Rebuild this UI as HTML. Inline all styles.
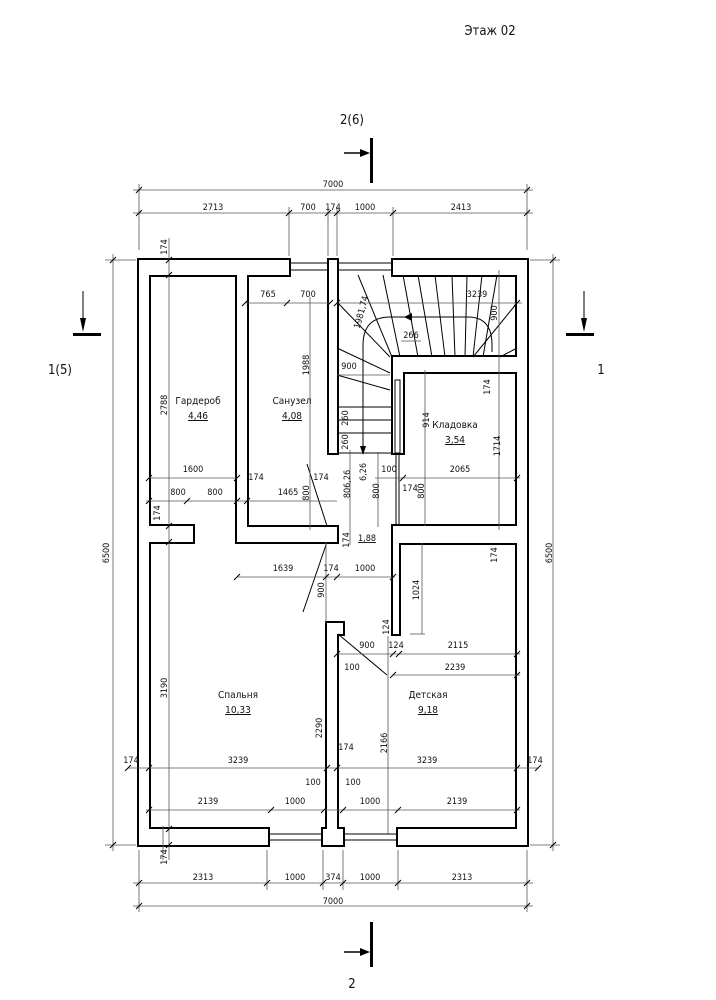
<!DOCTYPE html>
<html><head><meta charset="utf-8"><style>
html,body{margin:0;padding:0;background:#fff}
svg{display:block}
text{font-family:"DejaVu Sans","Liberation Sans",sans-serif;font-stretch:condensed;fill:#111}
.t{font-size:9px}
.d{stroke:#555;stroke-width:0.8;fill:none}
.k{stroke:#000;stroke-width:1;fill:none}
</style></head><body>
<svg width="716" height="1000" viewBox="0 0 716 1000" xmlns="http://www.w3.org/2000/svg">
<defs>
<g id="walls">
<rect x="139" y="260" width="150" height="15"/>
<rect x="329" y="260" width="8" height="193"/>
<rect x="393" y="260" width="134" height="15"/>
<rect x="139" y="260" width="10" height="585"/>
<rect x="517" y="260" width="10" height="585"/>
<rect x="139" y="829" width="129" height="16"/>
<rect x="323" y="829" width="20" height="16"/>
<rect x="398" y="829" width="129" height="16"/>
<rect x="149" y="526" width="44" height="16"/>
<rect x="237" y="275" width="10" height="267"/>
<rect x="237" y="527" width="100" height="15"/>
<rect x="393" y="357" width="124" height="15"/>
<rect x="393" y="357" width="10" height="96"/>
<rect x="393" y="526" width="124" height="17"/>
<rect x="393" y="526" width="6" height="108"/>
<rect x="327" y="623" width="16" height="11"/>
<rect x="327" y="623" width="10" height="222"/>
</g>
</defs>
<use href="#walls" stroke="#000" stroke-width="4" fill="#000"/>
<use href="#walls" fill="#fff"/>
<!-- windows -->
<g class="k" stroke-width="0.8">
<line x1="289" y1="263" x2="329" y2="263"/><line x1="289" y1="270" x2="329" y2="270"/>
<line x1="337" y1="263" x2="393" y2="263"/><line x1="337" y1="270" x2="393" y2="270"/>
<line x1="268" y1="834" x2="323" y2="834"/><line x1="268" y1="840" x2="323" y2="840"/>
<line x1="343" y1="834" x2="398" y2="834"/><line x1="343" y1="840" x2="398" y2="840"/>
</g>
<!-- pocket door -->
<rect x="395" y="380" width="5" height="73" fill="#fff" stroke="#000" stroke-width="1"/>
<line x1="396" y1="453" x2="396" y2="526" class="k" stroke-width="0.8"/>
<line x1="399" y1="453" x2="399" y2="526" class="k" stroke-width="0.8"/>
<!-- doors -->
<g class="k" stroke-width="1.4">
<line x1="307" y1="464" x2="327" y2="526"/>
<line x1="327" y1="542" x2="303" y2="612"/>
<line x1="338" y1="634" x2="387" y2="675"/>
</g>
<!-- stairs -->
<g class="k" stroke-width="0.8">
<line x1="358" y1="275" x2="392" y2="357"/>
<line x1="383" y1="275" x2="400" y2="357"/>
<line x1="403" y1="275" x2="418" y2="357"/>
<line x1="418" y1="275" x2="432" y2="357"/>
<line x1="435" y1="275" x2="445" y2="357"/>
<line x1="452" y1="275" x2="455" y2="357"/>
<line x1="467" y1="275" x2="465" y2="357"/>
<line x1="482" y1="275" x2="473" y2="357"/>
<line x1="497" y1="275" x2="483" y2="357"/>
<line x1="517" y1="303" x2="473" y2="357"/>
<line x1="517" y1="348" x2="500" y2="357"/>
<line x1="337" y1="302" x2="390" y2="357"/>
<line x1="337" y1="348" x2="390" y2="373"/>
<line x1="337" y1="375" x2="390" y2="390"/>
<line x1="337" y1="407" x2="393" y2="407"/>
<line x1="337" y1="420" x2="393" y2="420"/>
<line x1="337" y1="433" x2="393" y2="433"/>
<line x1="337" y1="453" x2="393" y2="453"/>
<path d="M363 453 V345 Q363 317 390 317 H468 Q492 317 492 345 V352"/>
</g>
<path d="M404 317 L412 313 L412 321 Z" fill="#000"/>
<path d="M363 455 L360 446 L366 446 Z" fill="#000"/>
<!-- dimension lines -->
<g class="d">
<line x1="133" y1="190" x2="533" y2="190"/>
<line x1="133" y1="213" x2="533" y2="213"/>
<line x1="139" y1="184" x2="139" y2="250"/><line x1="527" y1="184" x2="527" y2="250"/>
<line x1="289" y1="207" x2="289" y2="256"/><line x1="328" y1="207" x2="328" y2="256"/>
<line x1="337" y1="207" x2="337" y2="256"/><line x1="393" y1="207" x2="393" y2="256"/>
<line x1="133" y1="883" x2="533" y2="883"/>
<line x1="133" y1="906" x2="533" y2="906"/>
<line x1="139" y1="850" x2="139" y2="912"/><line x1="527" y1="850" x2="527" y2="912"/>
<line x1="267" y1="850" x2="267" y2="890"/><line x1="323" y1="850" x2="323" y2="890"/>
<line x1="343" y1="850" x2="343" y2="890"/><line x1="398" y1="850" x2="398" y2="890"/>
<line x1="113" y1="254" x2="113" y2="851"/><line x1="105" y1="260" x2="136" y2="260"/><line x1="105" y1="845" x2="136" y2="845"/>
<line x1="553" y1="254" x2="553" y2="851"/><line x1="530" y1="260" x2="560" y2="260"/><line x1="530" y1="845" x2="560" y2="845"/>
<line x1="169" y1="238" x2="169" y2="860"/>
<line x1="245" y1="303" x2="330" y2="303"/>
<line x1="310" y1="297" x2="310" y2="530"/>
<line x1="337" y1="303" x2="522" y2="303"/>
<line x1="337" y1="375" x2="390" y2="375"/>
<line x1="401" y1="341" x2="421" y2="341"/>
<line x1="149" y1="478" x2="237" y2="478"/>
<line x1="146" y1="501" x2="337" y2="501"/>
<line x1="403" y1="478" x2="520" y2="478"/>
<line x1="375" y1="478" x2="403" y2="478"/>
<line x1="425" y1="370" x2="425" y2="526"/>
<line x1="499" y1="270" x2="499" y2="530"/>
<line x1="350" y1="450" x2="350" y2="545"/>
<line x1="378" y1="452" x2="378" y2="527"/>
<line x1="237" y1="577" x2="395" y2="577"/>
<line x1="326" y1="542" x2="326" y2="623"/>
<line x1="422" y1="543" x2="422" y2="634"/><line x1="410" y1="634" x2="425" y2="634"/>
<line x1="337" y1="654" x2="520" y2="654"/>
<line x1="393" y1="675" x2="520" y2="675"/>
<line x1="388" y1="636" x2="388" y2="835"/>
<line x1="128" y1="768" x2="538" y2="768"/>
<line x1="146" y1="810" x2="520" y2="810"/>
<line x1="163" y1="826" x2="163" y2="860"/>
</g>
<!-- ticks -->
<g class="k" stroke-width="1">
<path d="M136 193l6-6M286 216l6-6M325 216l6-6M334 216l6-6M390 216l6-6M524 216l6-6M136 216l6-6M524 193l6-6
M136 886l6-6M264 886l6-6M320 886l6-6M340 886l6-6M395 886l6-6M524 886l6-6M136 909l6-6M524 909l6-6
M110 263l6-6M110 848l6-6M550 263l6-6M550 848l6-6M166 263l6-6M166 278l6-6M166 529l6-6M166 545l6-6M166 832l6-6M166 848l6-6
M242 306l6-6M284 306l6-6M327 306l6-6M334 306l6-6M514 306l6-6M146 481l6-6M234 481l6-6M146 504l6-6M184 504l6-6M234 504l6-6M244 504l6-6
M400 481l6-6M514 481l6-6M234 580l6-6M323 580l6-6M334 580l6-6M390 580l6-6M334 657l6-6M390 657l6-6M396 657l6-6M514 657l6-6M390 678l6-6M514 678l6-6
M125 771l6-6M146 771l6-6M324 771l6-6M334 771l6-6M514 771l6-6M535 771l6-6M146 813l6-6M268 813l6-6M321 813l6-6M340 813l6-6M395 813l6-6M514 813l6-6"/>
</g>
<!-- section markers -->
<g fill="#000">
<rect x="370" y="138" width="3" height="45"/>
<line x1="344" y1="153" x2="362" y2="153" stroke="#000" stroke-width="1.5"/>
<path d="M370 153 L360 149 L360 157 Z"/>
<rect x="370" y="922" width="3" height="45"/>
<line x1="344" y1="952" x2="362" y2="952" stroke="#000" stroke-width="1.5"/>
<path d="M370 952 L360 948 L360 956 Z"/>
<rect x="73" y="333" width="28" height="3"/>
<line x1="83" y1="291" x2="83" y2="320" stroke="#000" stroke-width="1"/>
<path d="M83 332 L80 318 L86 318 Z"/>
<rect x="566" y="333" width="28" height="3"/>
<line x1="584" y1="291" x2="584" y2="320" stroke="#000" stroke-width="1"/>
<path d="M584 332 L581 318 L587 318 Z"/>
</g>
<text x="490" y="35" text-anchor="middle" style="font-size:13px">Этаж 02</text>
<text x="352" y="124" text-anchor="middle" style="font-size:13px">2(6)</text>
<text x="352" y="988" text-anchor="middle" style="font-size:13px">2</text>
<text x="60" y="374" text-anchor="middle" style="font-size:13px">1(5)</text>
<text x="601" y="374" text-anchor="middle" style="font-size:13px">1</text>
<g class="t" text-anchor="middle">
<text x="333" y="187">7000</text>
<text x="213" y="210">2713</text><text x="308" y="210">700</text><text x="333" y="210">174</text><text x="365" y="210">1000</text><text x="461" y="210">2413</text>
<text x="203" y="880">2313</text><text x="295" y="880">1000</text><text x="333" y="880">374</text><text x="370" y="880">1000</text><text x="462" y="880">2313</text>
<text x="333" y="904">7000</text>
<text x="268" y="297">765</text><text x="308" y="297">700</text><text x="477" y="297">3239</text>
<text x="411" y="338">266</text><text x="349" y="369">900</text>
<text x="193" y="472">1600</text><text x="178" y="495">800</text><text x="215" y="495">800</text>
<text x="256" y="480">174</text><text x="288" y="495">1465</text><text x="321" y="480">174</text>
<text x="389" y="472">100</text><text x="410" y="491">174</text><text x="460" y="472">2065</text>
<text x="283" y="571">1639</text><text x="331" y="571">174</text><text x="365" y="571">1000</text>
<text x="367" y="648">900</text><text x="396" y="648">124</text><text x="458" y="648">2115</text>
<text x="455" y="670">2239</text><text x="352" y="670">100</text><text x="346" y="750">174</text>
<text x="131" y="763">174</text><text x="238" y="763">3239</text><text x="427" y="763">3239</text><text x="535" y="763">174</text>
<text x="313" y="785">100</text><text x="353" y="785">100</text>
<text x="208" y="804">2139</text><text x="295" y="804">1000</text><text x="370" y="804">1000</text><text x="457" y="804">2139</text>
<text transform="translate(109,553) rotate(-90)">6500</text>
<text transform="translate(552,553) rotate(-90)">6500</text>
<text transform="translate(167,247) rotate(-90)">174</text>
<text transform="translate(167,405) rotate(-90)">2788</text>
<text transform="translate(309,365) rotate(-90)">1988</text>
<text transform="translate(364,313) rotate(-75)">1981,74</text>
<text transform="translate(497,313) rotate(-90)">900</text>
<text transform="translate(348,418) rotate(-90)">260</text>
<text transform="translate(348,442) rotate(-90)">260</text>
<text transform="translate(429,420) rotate(-90)">914</text>
<text transform="translate(500,446) rotate(-90)">1714</text>
<text transform="translate(490,387) rotate(-90)">174</text>
<text transform="translate(309,493) rotate(-90)">800</text>
<text transform="translate(350,484) rotate(-90)">806,26</text>
<text transform="translate(366,472) rotate(-90)">6,26</text>
<text transform="translate(379,491) rotate(-90)">800</text>
<text transform="translate(424,491) rotate(-90)">800</text>
<text transform="translate(160,513) rotate(-90)">174</text>
<text transform="translate(349,540) rotate(-90)">174</text>
<text transform="translate(497,555) rotate(-90)">174</text>
<text transform="translate(324,590) rotate(-90)">900</text>
<text transform="translate(419,590) rotate(-90)">1024</text>
<text transform="translate(389,627) rotate(-90)">124</text>
<text transform="translate(167,688) rotate(-90)">3190</text>
<text transform="translate(322,728) rotate(-90)">2290</text>
<text transform="translate(387,743) rotate(-90)">2166</text>
<text transform="translate(167,857) rotate(-90)">174</text>
<text x="367" y="541" style="text-decoration:underline">1,88</text>
</g>
<g text-anchor="middle" style="font-size:10px">
<text x="198" y="404">Гардероб</text><text x="198" y="419" style="text-decoration:underline">4,46</text>
<text x="292" y="404">Санузел</text><text x="292" y="419" style="text-decoration:underline">4,08</text>
<text x="455" y="428">Кладовка</text><text x="455" y="443" style="text-decoration:underline">3,54</text>
<text x="238" y="698">Спальня</text><text x="238" y="713" style="text-decoration:underline">10,33</text>
<text x="428" y="698">Детская</text><text x="428" y="713" style="text-decoration:underline">9,18</text>
</g>
</svg>
</body></html>
